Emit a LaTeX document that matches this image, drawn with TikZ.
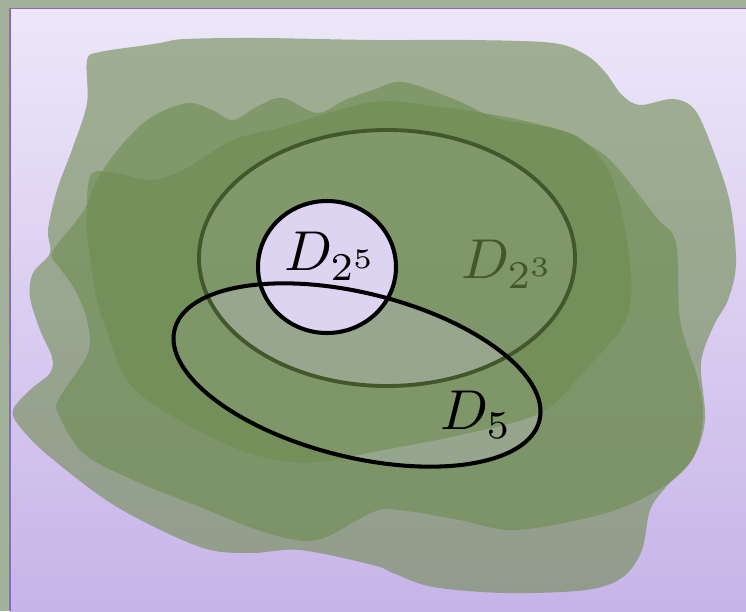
\documentclass[tikz,border=0pt]{standalone}
\usepackage{xcolor}
\usepackage{tikz}
\usetikzlibrary{positioning}

\definecolor{frameout}{RGB}{163,179,155}
\definecolor{paneltop}{RGB}{237,231,249}
\definecolor{panelbot}{RGB}{199,180,232}
\definecolor{panelrim}{RGB}{138,108,190}
\definecolor{leaf}{RGB}{110,140,80}
\definecolor{lilac}{RGB}{221,212,241}
\definecolor{moss}{RGB}{66,88,44}

\begin{document}
\begin{tikzpicture}[
  x=0.02cm, y=-0.02cm,
  blob/.style ={fill=leaf, fill opacity=0.6},
  lav/.style  ={fill=lilac, fill opacity=0.27},
  ring/.style ={draw=moss, line width=2.2pt},
  setl/.style ={draw=black, line width=2.3pt},
  lbl/.style  ={inner sep=0pt, text=black, scale=3.2},
]
\useasboundingbox (0,0) rectangle (746,611);

% ---- background panel ----
\fill[frameout] (0,0) rectangle (746,611);
\shade[top color=paneltop, bottom color=panelbot] (10,8.5) rectangle (746,611);
\draw[panelrim, line width=0.85pt] (10,611) -- (10,8.5) -- (746,8.5);

% ---- blobs ----
\fill[blob] plot[smooth cycle, tension=0.55] coordinates {
  (87,60) (100,52) (140,46) (160,43) (185,39) (260,38) (373,40) (470,40)
  (553,43) (586,55) (605,72) (622,95) (640,105) (673,99) (695,110) (713,150)
  (730,203) (736,263) (728,300) (714,325) (701,363) (705,420) (693,458)
  (666,487) (650,510) (642,550) (623,577) (586,590) (506,593) (433,587)
  (393,573) (373,565) (300,550) (250,553) (200,547) (117,507) (50,457)
  (20,427) (13,410) (30,390) (50,373) (52,357) (40,330) (30,297) (33,273)
  (50,253) (48,230) (57,190) (73,147) (87,103)};
\fill[blob] plot[smooth cycle, tension=0.55] coordinates {
  (52,253) (77,220) (87,205) (97,180) (120,147) (150,118) (187,103) (212,110)
  (233,120) (258,106) (283,98) (317,113) (345,100) (373,90) (403,82) (456,100)
  (496,118) (560,130) (586,143) (613,163) (656,217) (676,243) (680,320)
  (698,380) (703,417) (693,458) (663,487) (606,513) (516,530) (460,520)
  (400,510) (373,512) (317,540) (267,533) (200,507) (133,480) (83,453)
  (58,413) (60,397) (88,353) (87,320) (75,290) (60,268)};

% D_5 tint, under the ring blob
\fill[lav, rotate around={-14:(357,375)}] (357,375) ellipse [x radius=188, y radius=82];

% ring blob, D_{2^3} cut out
\fill[blob, even odd rule] plot[smooth cycle, tension=0.55] coordinates {
  (90,177) (110,172) (150,180) (183,170) (233,140) (283,127) (373,102)
  (440,107) (506,117) (560,130) (586,143) (613,180) (630,263) (626,320)
  (585,370) (540,413) (460,435) (373,452) (320,462) (277,460) (233,447)
  (167,413) (127,380) (103,320) (95,290) (87,230)}
  (387,258) ellipse [x radius=188, y radius=128];

% ---- sets ----
\draw[ring] (387,258) ellipse [x radius=188, y radius=128];
\draw[setl, fill=lilac] (327,267) ellipse [x radius=69, y radius=66];
\draw[setl, rotate around={-14:(357,375)}] (357,375) ellipse [x radius=188, y radius=82];

% ---- labels ----
\node[lbl] (d25) at (331,256) {$D_{2^5}$};
\node[lbl, text=moss] (d23) at (508,264) {$D_{2^3}$};
\node[lbl] (d5) at (476,415) {$D_5$};
\end{tikzpicture}
\end{document}
